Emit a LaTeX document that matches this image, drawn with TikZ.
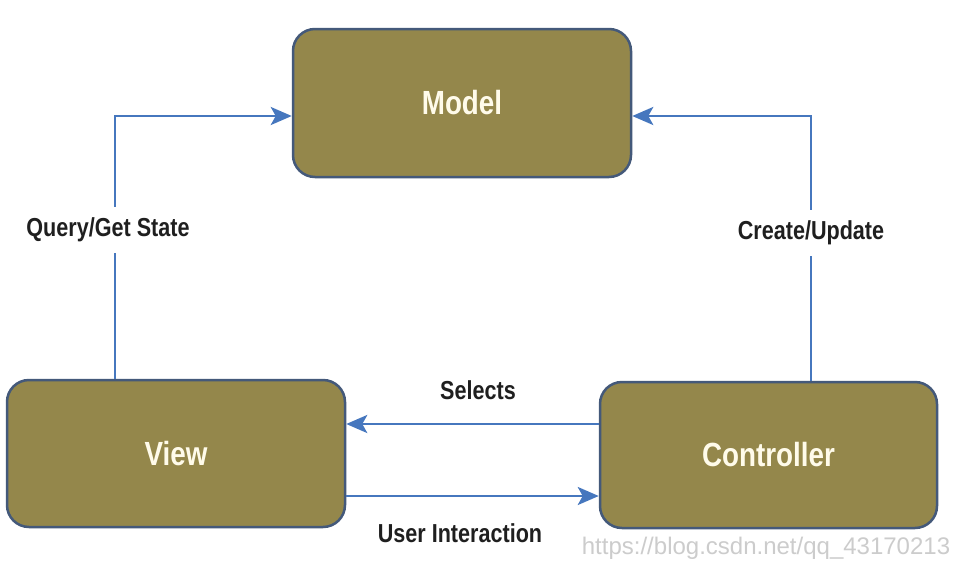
\documentclass[tikz,border=0pt]{standalone}
\usepackage{fontspec}
\setmainfont{Liberation Sans}[FakeStretch=0.83]
\newfontfamily\wmfont{Liberation Sans}
\usetikzlibrary{arrows.meta,positioning}
\definecolor{boxfill}{HTML}{94874B}
\definecolor{boxline}{HTML}{44597A}
\definecolor{arrblue}{HTML}{4677BE}
\definecolor{boxtext}{HTML}{FFFBEA}
\tikzset{
  mvcbox/.style={draw=boxline, line width=2.5pt, fill=boxfill, rounded corners=22pt,
    text=boxtext, font=\fontsize{33.5}{36}\selectfont\bfseries, inner sep=0pt},
  arr/.style={draw=arrblue, line width=2.8pt, -{Stealth[length=21pt,width=18pt,inset=5pt]}},
  lbl/.style={font=\fontsize{26}{28}\selectfont\bfseries, text=black!88, fill=white, inner xsep=4pt, inner ysep=11pt}
}
\begin{document}
\begin{tikzpicture}[x=1pt,y=-1pt]
\useasboundingbox[fill=white] (0,0) rectangle (958,565);
\node[mvcbox, minimum width=338pt, minimum height=148pt] (model) at (462,103) {Model};
\node[mvcbox, minimum width=338pt, minimum height=147pt] (view) at (176,453.5) {View};
\node[mvcbox, minimum width=337pt, minimum height=146pt] (ctrl) at (768.5,455) {Controller};
\coordinate (qx) at (115,116);
\coordinate (cx) at (811,116);
\coordinate (sel) at (0,424);
\coordinate (usr) at (0,496);
% Query/Get State
\draw[arr] (view.north -| qx) -- (qx) -- (model.west |- qx);
\node[lbl] (qlabel) at (108,230) {Query/Get State};
% Create/Update
\draw[arr] (ctrl.north -| cx) -- (cx) -- (model.east |- cx);
\node[lbl] (clabel) at (811,233) {Create/Update};
% Selects
\draw[arr] (ctrl.west |- sel) -- (view.east |- sel);
\node[lbl, fill=none] (slabel) at (478,390) {Selects};
% User Interaction
\draw[arr] (view.east |- usr) -- (ctrl.west |- usr);
\node[lbl, fill=none] (ulabel) at (460,533) {User Interaction};
% watermark
\node[text=black!20, font=\wmfont\fontsize{24}{26}\selectfont, inner sep=0pt] (wm) at (766,548) {https://blog.csdn.net/qq\_43170213};
\end{tikzpicture}
\end{document}
